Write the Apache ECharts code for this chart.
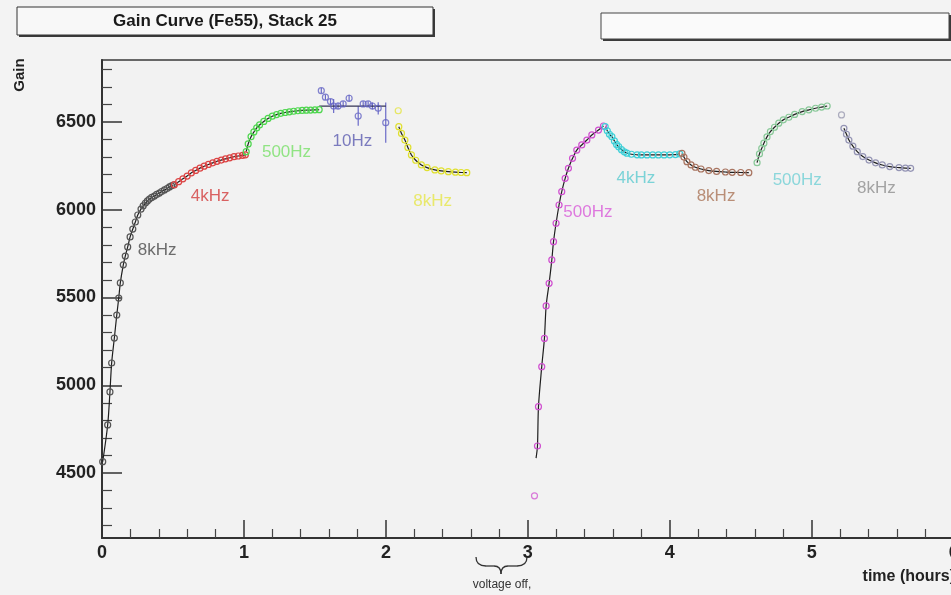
<!DOCTYPE html>
<html><head><meta charset="utf-8">
<script src="https://cdn.jsdelivr.net/npm/echarts@6/dist/echarts.min.js"></script>
<style>html,body{margin:0;padding:0;background:#f3f3f3}#c{width:951px;height:595px}</style>
</head><body><div id="c"></div><script>
// ---- data (time in hours, gain) ----
const tBlack8k = [0.005,0.040,0.056,0.068,0.087,0.104,0.118,0.129,0.150,0.164,0.181,0.198,0.217,0.235,0.252,0.275,0.290,0.306,0.320,0.334,0.350,0.369,0.385,0.404,0.420,0.440,0.458,0.475,0.490,0.503];
const gBlack8k = [4565,4774,4962,5127,5269,5400,5497,5583,5686,5736,5788,5845,5890,5930,5970,6004,6022,6038,6050,6061,6070,6078,6087,6095,6104,6113,6121,6130,6136,6141];
const tRed4k = [0.51,0.54,0.57,0.60,0.63,0.66,0.69,0.72,0.75,0.78,0.81,0.84,0.87,0.90,0.93,0.96,0.99,1.01];
const gRed4k = [6143,6160,6176,6192,6210,6224,6237,6248,6258,6267,6276,6283,6290,6296,6302,6306,6310,6313];
const tGreen500 = [1.016,1.03,1.05,1.07,1.09,1.11,1.14,1.17,1.20,1.23,1.26,1.29,1.32,1.35,1.38,1.41,1.44,1.47,1.50,1.53];
const gGreen500 = [6331,6375,6416,6443,6466,6483,6503,6520,6533,6542,6549,6554,6558,6561,6564,6566,6567,6568,6569,6570];
const tBlue10 = [1.545,1.574,1.610,1.632,1.663,1.699,1.741,1.805,1.840,1.875,1.905,1.946,1.999];
const gBlue10 = [6678,6641,6616,6591,6591,6603,6635,6534,6603,6603,6591,6578,6496];
const eBlue10 = [15,15,15,40,20,15,20,55,15,15,20,35,115];
const tBlueFit = [1.53,2.0];
const gBlueFit = [6590,6590];
const tYellow8k = [2.091,2.11,2.134,2.155,2.18,2.21,2.25,2.29,2.345,2.39,2.44,2.49,2.53,2.57];
const gYellow8k = [6473,6435,6397,6355,6312,6282,6255,6240,6227,6221,6217,6214,6212,6211];
const tMagenta500 = [3.058,3.068,3.075,3.098,3.117,3.129,3.150,3.169,3.181,3.199,3.220,3.239,3.263,3.286,3.315,3.345,3.38,3.416,3.451,3.498,3.533];
const gMagenta500 = [4585,4654,4878,5106,5267,5452,5581,5714,5818,5923,6027,6103,6179,6236,6293,6340,6369,6397,6426,6454,6477];
const tCyan4k = [3.545,3.56,3.575,3.592,3.61,3.625,3.64,3.66,3.68,3.698,3.73,3.77,3.80,3.84,3.88,3.92,3.96,4.00,4.04,4.07];
const gCyan4k = [6473,6450,6430,6416,6392,6372,6359,6342,6330,6322,6316,6313,6312,6312,6312,6312,6312,6313,6314,6318];
const tBrown8k = [4.086,4.10,4.121,4.15,4.18,4.22,4.275,4.33,4.392,4.44,4.50,4.557];
const gBrown8k = [6321,6300,6274,6255,6242,6232,6223,6218,6215,6213,6212,6211];
const tTeal500 = [4.615,4.632,4.648,4.663,4.685,4.709,4.738,4.768,4.80,4.839,4.88,4.933,4.98,5.027,5.07,5.109];
const gTeal500 = [6268,6318,6350,6379,6415,6445,6470,6493,6512,6527,6543,6559,6569,6578,6585,6591];
const tGrey8k = [5.227,5.245,5.262,5.29,5.321,5.36,5.404,5.45,5.497,5.55,5.615,5.66,5.697];
const gGrey8k = [6464,6430,6397,6362,6331,6303,6283,6267,6255,6246,6240,6237,6236];
// isolated points not on the fits
const tOutlier = [2.087,3.047,5.21];
const gOutlier = [6564,4370,6540];
const cOutlier = ['#e4e43c','#d25ad2','#9a9ab0'];
// annotation labels
const labelText = ['8kHz','4kHz','500Hz','10Hz','8kHz','500Hz','4kHz','8kHz','500Hz','8kHz'];
const labelT = [0.388,0.762,1.30,1.764,2.329,3.423,3.762,4.326,4.898,5.455];
const labelG = [5771,6078,6329,6392,6050,5987,6181,6078,6170,6124];
const labelColor = ['#4a4a4a','#d23c3c','#78e068','#5c5cb0','#e6e64a','#d85ad8','#5ccacf','#aa7458','#70d0d4','#8e8e8e'];
// axis ticks
const yMajor = [4500,5000,5500,6000,6500];
const yMinor = [4200,4300,4400,4600,4700,4800,4900,5100,5200,5300,5400,5600,5700,5800,5900,6100,6200,6300,6400,6600,6700,6800];

const FONT = 'Liberation Sans, Arial, sans-serif';
const zip = (t, g) => t.map((v, i) => [v, g[i]]);

function seg(t, g, color, firstHidden) {
  const data = zip(t, g).map((p, i) => (firstHidden && i === 0) ? {value: p, symbol: 'none'} : p);
  return {
    type: 'line', data, smooth: 0.3, symbol: 'circle', symbolSize: 6,
    itemStyle: {color: 'rgba(0,0,0,0)', borderColor: color, borderWidth: 1.2},
    lineStyle: {color: '#1e1e1e', width: 1.2}, silent: true, z: 3, animation: false
  };
}

const series = [
  seg(tBlack8k, gBlack8k, '#555555'),
  seg(tRed4k, gRed4k, '#dc4444'),
  seg(tGreen500, gGreen500, '#4fd64f'),
  {type: 'line', data: zip(tBlueFit, gBlueFit), symbol: 'none', lineStyle: {color: '#333355', width: 1.2}, silent: true, animation: false},
  {type: 'custom', silent: true, animation: false, z: 2,
   data: tBlue10.map((t, i) => [t, gBlue10[i], eBlue10[i]]),
   renderItem: (params, api) => {
     const a = api.coord([api.value(0), api.value(1) - api.value(2)]);
     const b = api.coord([api.value(0), api.value(1) + api.value(2)]);
     return {type: 'line', shape: {x1: a[0], y1: a[1], x2: b[0], y2: b[1]}, style: {stroke: '#6a6ac8', lineWidth: 1.2}};
   }},
  {type: 'scatter', data: zip(tBlue10, gBlue10), symbol: 'circle', symbolSize: 6,
   itemStyle: {color: 'rgba(0,0,0,0)', borderColor: '#6464c4', borderWidth: 1.2}, silent: true, animation: false, z: 3},
  seg(tYellow8k, gYellow8k, '#e0e030'),
  seg(tMagenta500, gMagenta500, '#d050d0', true),
  seg(tCyan4k, gCyan4k, '#3fd0d8'),
  seg(tBrown8k, gBrown8k, '#a87460'),
  seg(tTeal500, gTeal500, '#88c898'),
  seg(tGrey8k, gGrey8k, '#9494b4'),
  {type: 'scatter', data: tOutlier.map((t, i) => ({value: [t, gOutlier[i]], itemStyle: {borderColor: cOutlier[i]}})),
   symbol: 'circle', symbolSize: 6, itemStyle: {color: 'rgba(0,0,0,0)', borderWidth: 1.2}, silent: true, animation: false, z: 3},
  {type: 'scatter', symbolSize: 0, silent: true, animation: false, z: 5,
   data: labelT.map((t, i) => ({value: [t, labelG[i]], label: {color: labelColor[i]}})),
   label: {show: true, position: 'inside', formatter: p => labelText[p.dataIndex], fontSize: 17, fontFamily: FONT}}
];

const chart = echarts.init(document.getElementById('c'), null, {renderer: 'canvas'});
chart.setOption({
  backgroundColor: '#f3f3f3',
  animation: false,
  grid: {left: 102, top: 60, right: -14, bottom: 57, outerBoundsMode: 'none', containLabel: false, show: true, backgroundColor: '#f2f2f2', borderColor: '#3a3a3a', borderWidth: 1.5},
  xAxis: {
    type: 'value', min: 0, max: 6.08, interval: 1,
    axisLine: {show: true, lineStyle: {color: '#333', width: 2}},
    axisTick: {show: true, inside: true, length: 18, lineStyle: {color: '#333', width: 1.5}},
    minorTick: {show: true, splitNumber: 5, length: 9, lineStyle: {color: '#444', width: 1.2}},
    axisLabel: {fontSize: 18, fontWeight: 'bold', color: '#222', fontFamily: FONT, margin: 6, hideOverlap: false,
      formatter: v => (Math.abs(v - Math.round(v)) < 1e-6 ? String(Math.round(v)) : '')},
    splitLine: {show: false}
  },
  yAxis: [{
    type: 'value', min: 4130, max: 6853,
    axisLine: {show: true, lineStyle: {color: '#333', width: 2}},
    axisTick: {show: true, inside: true, length: 20, customValues: yMajor, lineStyle: {color: '#333', width: 1.5}},
    axisLabel: {customValues: yMajor, fontSize: 18, fontWeight: 'bold', color: '#222', fontFamily: FONT, margin: 6, formatter: v => String(Math.round(v))},
    splitLine: {show: false}
  }, {
    type: 'value', min: 4130, max: 6853, position: 'left',
    axisLine: {show: false},
    axisTick: {show: true, inside: true, length: 10, customValues: yMinor, lineStyle: {color: '#444', width: 1.2}},
    axisLabel: {show: false},
    splitLine: {show: false}
  }],
  graphic: [
    {type: 'rect', z: 10, shape: {x: 19, y: 9, width: 416, height: 28}, style: {fill: '#3a3a3a'}},
    {type: 'rect', z: 11, shape: {x: 17, y: 7, width: 416, height: 28}, style: {fill: '#f8f8f8', stroke: '#333', lineWidth: 1}},
    {type: 'text', z: 12, x: 225, y: 21, style: {text: 'Gain Curve (Fe55), Stack 25', font: 'bold 17px ' + FONT, fill: '#1a1a1a', textAlign: 'center', textVerticalAlign: 'middle'}},
    {type: 'rect', z: 10, shape: {x: 603, y: 15, width: 348, height: 26}, style: {fill: '#3a3a3a'}},
    {type: 'rect', z: 11, shape: {x: 601, y: 13, width: 348, height: 26}, style: {fill: '#fafafa', stroke: '#444', lineWidth: 1}},
    {type: 'text', z: 12, x: 20, y: 75, rotation: Math.PI / 2, style: {text: 'Gain', font: 'bold 15px ' + FONT, fill: '#222', textAlign: 'center', textVerticalAlign: 'middle'}},
    {type: 'text', z: 12, x: 955, y: 577, style: {text: 'time (hours)', font: 'bold 16px ' + FONT, fill: '#222', textAlign: 'right', textVerticalAlign: 'middle'}},
    {type: 'bezierCurve', z: 12, shape: {x1: 476, y1: 557, cpx1: 476, cpy1: 566, x2: 486, y2: 566}, style: {fill: null, stroke: '#333', lineWidth: 1.3}},
    {type: 'line', z: 12, shape: {x1: 486, y1: 566, x2: 494, y2: 566}, style: {stroke: '#333', lineWidth: 1.3}},
    {type: 'bezierCurve', z: 12, shape: {x1: 494, y1: 566, cpx1: 501, cpy1: 566, x2: 501, y2: 574}, style: {fill: null, stroke: '#333', lineWidth: 1.3}},
    {type: 'bezierCurve', z: 12, shape: {x1: 501, y1: 574, cpx1: 501, cpy1: 566, x2: 508, y2: 566}, style: {fill: null, stroke: '#333', lineWidth: 1.3}},
    {type: 'line', z: 12, shape: {x1: 508, y1: 566, x2: 517, y2: 566}, style: {stroke: '#333', lineWidth: 1.3}},
    {type: 'bezierCurve', z: 12, shape: {x1: 517, y1: 566, cpx1: 527, cpy1: 566, x2: 527, y2: 557}, style: {fill: null, stroke: '#333', lineWidth: 1.3}},
    {type: 'text', z: 12, x: 502, y: 585, style: {text: 'voltage off,', font: '12px ' + FONT, fill: '#333', textAlign: 'center', textVerticalAlign: 'middle'}}
  ],
  series
});
</script></body></html>
